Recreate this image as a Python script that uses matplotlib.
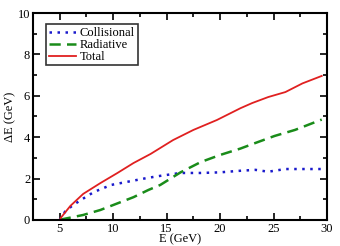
import matplotlib
matplotlib.use('Agg')
import matplotlib.pyplot as plt
from matplotlib.ticker import MultipleLocator

plt.rcParams['font.family'] = ['Liberation Serif', 'DejaVu Serif']

# energy loss curves
E_tot = [5.0, 5.1, 6.0, 7.2, 8.8, 10.4, 11.9, 13.5, 15.6, 17.5, 19.7, 21.9, 23.0, 24.5, 26.1, 27.7, 29.5]
dE_tot = [0.0, 0.1, 0.68, 1.26, 1.78, 2.27, 2.75, 3.19, 3.86, 4.35, 4.83, 5.4, 5.65, 5.94, 6.18, 6.6, 6.96]

E_col = [5.0, 5.5, 6.2, 7.0, 8.2, 9.8, 11.3, 13.2, 14.4, 16.3, 18.2, 20.0, 21.7, 23.3, 24.5, 26.1, 27.7, 29.5]
dE_col = [0.0, 0.4, 0.7, 0.97, 1.35, 1.69, 1.84, 2.03, 2.13, 2.27, 2.27, 2.3, 2.37, 2.42, 2.33, 2.46, 2.46, 2.46]

E_rad = [5.0, 5.4, 7.2, 8.8, 10.4, 11.9, 13.3, 14.4, 16.3, 18.2, 20.0, 21.9, 23.3, 25.1, 27.0, 29.5]
dE_rad = [0.0, 0.05, 0.24, 0.48, 0.8, 1.1, 1.45, 1.69, 2.3, 2.8, 3.14, 3.45, 3.72, 4.06, 4.35, 4.85]

fig = plt.figure(figsize=(3.4, 2.46), dpi=100)
ax = fig.add_axes([0.097, 0.106, 0.865, 0.841])

ax.plot(E_col, dE_col, color='#1a1acc', linestyle=(0, (1, 2.2)), linewidth=1.8, label='Collisional')
ax.plot(E_rad, dE_rad, color='#1a8c1a', linestyle=(0, (4.5, 2.5)), linewidth=1.8, label='Radiative')
ax.plot(E_tot, dE_tot, color='#e02020', linestyle='-', linewidth=1.3, label='Total')

ax.set_xlim(2.5, 30)
ax.set_ylim(0, 10)
ax.xaxis.set_major_locator(MultipleLocator(5))
ax.xaxis.set_minor_locator(MultipleLocator(2.5))
ax.yaxis.set_major_locator(MultipleLocator(2))
ax.yaxis.set_minor_locator(MultipleLocator(1))
ax.tick_params(which='both', direction='in', top=True, right=True, width=1.2, labelsize=9, pad=2)
ax.tick_params(which='major', length=5)
ax.tick_params(which='minor', length=3)
for s in ax.spines.values():
    s.set_linewidth(1.5)

ax.set_xlabel('E (GeV)', fontsize=9, labelpad=-1)
ax.set_ylabel('ΔE (GeV)', fontsize=9, labelpad=1)

leg = ax.legend(loc='upper left', bbox_to_anchor=(0.045, 0.945), fontsize=9, frameon=True, fancybox=False,
                edgecolor='black', borderpad=0.2, labelspacing=0.0, handlelength=2.2, handletextpad=0.3,
                borderaxespad=0)
leg.get_frame().set_linewidth(1.2)

fig.savefig('out.png', dpi=100)
